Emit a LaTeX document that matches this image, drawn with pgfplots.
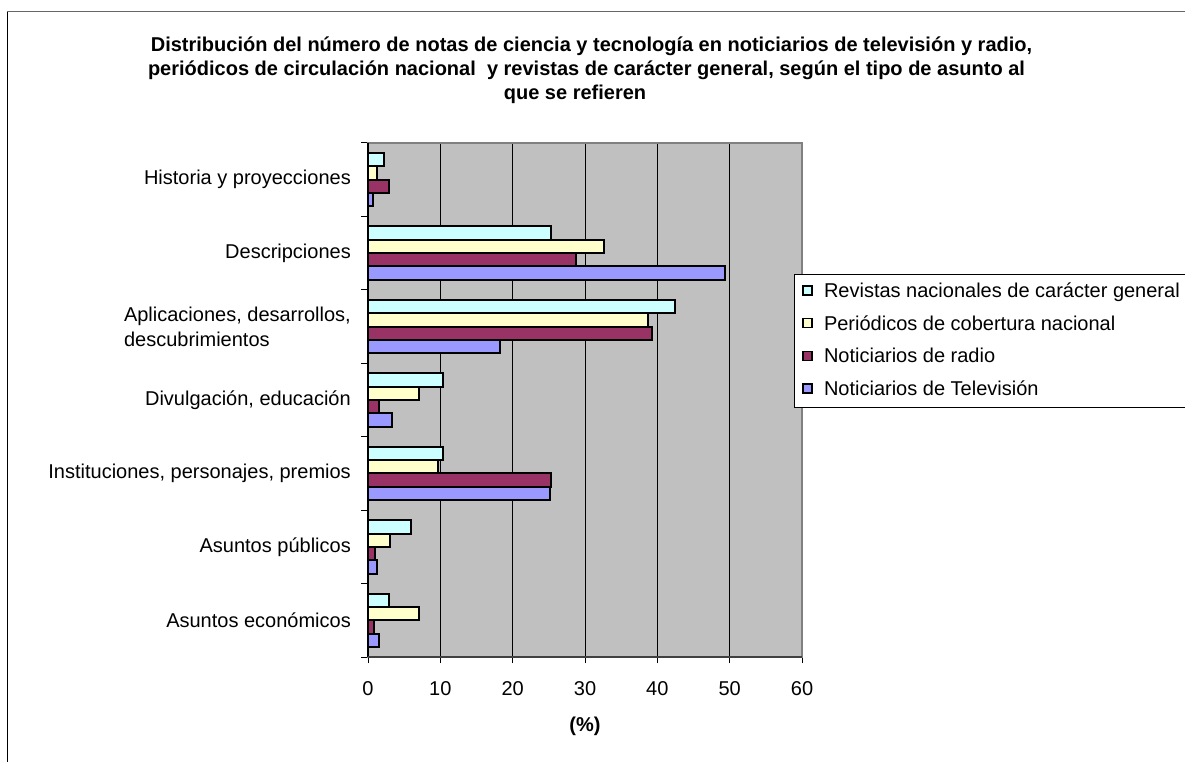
\documentclass[border=0pt]{standalone}
\usepackage{pgfplots}
\pgfplotsset{compat=1.18}
\usepackage{pgfplotstable}
\usepackage{fontspec}
\setmainfont{Liberation Sans}
\definecolor{cRev}{HTML}{CCFFFF}
\definecolor{cPer}{HTML}{FFFFCC}
\definecolor{cRad}{HTML}{993366}
\definecolor{cTV}{HTML}{9999FF}
\definecolor{plotbg}{HTML}{C0C0C0}
\definecolor{frameg}{HTML}{808080}

\pgfplotstableread{
y tv radio per rev
0 1.5 0.8 7.0 2.9
1 1.3 1.0 3.0 6.0
2 25.1 25.3 9.7 10.4
3 3.3 1.5 7.0 10.4
4 18.3 39.3 38.7 42.5
5 49.4 28.8 32.6 25.3
6 0.7 2.9 1.25 2.2
}\datatable

\begin{document}
\begin{tikzpicture}[x=1pt,y=1pt]
\useasboundingbox (0,0) rectangle (1185,761);
\fill[white] (0,0) rectangle (1185,761);
\draw[black, line width=1pt] (7,-2) -- (7,749);
\draw[black!60, line width=1pt] (7,749) -- (1187,749);
\begin{scope}[font=\fontsize{20}{24}\selectfont\bfseries]
\node at (591.5,715) {Distribución del número de notas de ciencia y tecnología en noticiarios de televisión y radio,};
\node at (586.5,691) {periódicos de circulación nacional\ \ y revistas de carácter general, según el tipo de asunto al};
\node at (575,667) {que se refieren};
\end{scope}
\begin{axis}[
 at={(368pt,104pt)}, anchor=south west,
 scale only axis, width=434pt, height=514pt,
 xbar, bar width=13.3pt,
 xmin=0, xmax=60, ymin=-0.5, ymax=6.5,
 axis background/.style={fill=plotbg},
 axis line style={draw=frameg, line width=2pt},
 xtick={0,10,...,60},
 ytick={0,...,6},
 yticklabels={Asuntos económicos, Asuntos públicos, {Instituciones, personajes, premios}, {Divulgación, educación}, {Aplicaciones, desarrollos,\\descubrimientos}, Descripciones, Historia y proyecciones},
 minor ytick={-0.5,0.5,...,6.5},
 xtick pos=bottom, ytick pos=left,
 tick align=outside,
 major tick length=6pt, minor tick length=7pt,
 ytick style={draw=none},
 minor y tick style={draw=black, line width=1pt},
 xtick style={draw=black, line width=1pt},
 xmajorgrids, major grid style={draw=black, line width=0.8pt},
 yticklabel style={font=\fontsize{20}{25}\selectfont, anchor=east, inner sep=0pt, xshift=-11pt, align=left},
 xticklabel style={font=\fontsize{20}{25}\selectfont, anchor=north, inner sep=0pt, yshift=-18pt},
 /pgf/number format/assume math mode=true,
 every axis plot/.append style={draw=black, line width=2pt},
 reverse legend,
 legend style={at={(0.9816,0.745)}, anchor=north west, draw=black, line width=0.8pt, fill=white,
   font=\fontsize{20}{25}\selectfont, inner xsep=8pt, inner ysep=8pt,
   nodes={inner sep=0pt, text height=15pt, text depth=4pt, anchor=base west},
   row sep=13.7pt,
   /tikz/every odd column/.append style={column sep=11pt}},
 legend cell align=left,
 legend image code/.code={\draw[#1, line width=1.6pt] (0pt,2.5pt) rectangle (9pt,11.5pt);},
 clip=false,
]
\addplot[fill=cTV, bar shift=-20pt] table[x=tv, y=y] {\datatable};
\addplot[fill=cRad, bar shift=-6.67pt] table[x=radio, y=y] {\datatable};
\addplot[fill=cPer, bar shift=6.67pt] table[x=per, y=y] {\datatable};
\addplot[fill=cRev, bar shift=20pt] table[x=rev, y=y] {\datatable};
\legend{Noticiarios de Televisión, Noticiarios de radio, Periódicos de cobertura nacional, Revistas nacionales de carácter general}
\draw[black, line width=1.2pt] (rel axis cs:0,0) -- (rel axis cs:0,1);
\draw[black!75, line width=2pt] (rel axis cs:0,0) -- (rel axis cs:1,0);
\node[font=\fontsize{20}{24}\selectfont\bfseries] at (rel axis cs:0.5,0) [yshift=-69pt] {(\%)};
\end{axis}
\end{tikzpicture}
\end{document}
